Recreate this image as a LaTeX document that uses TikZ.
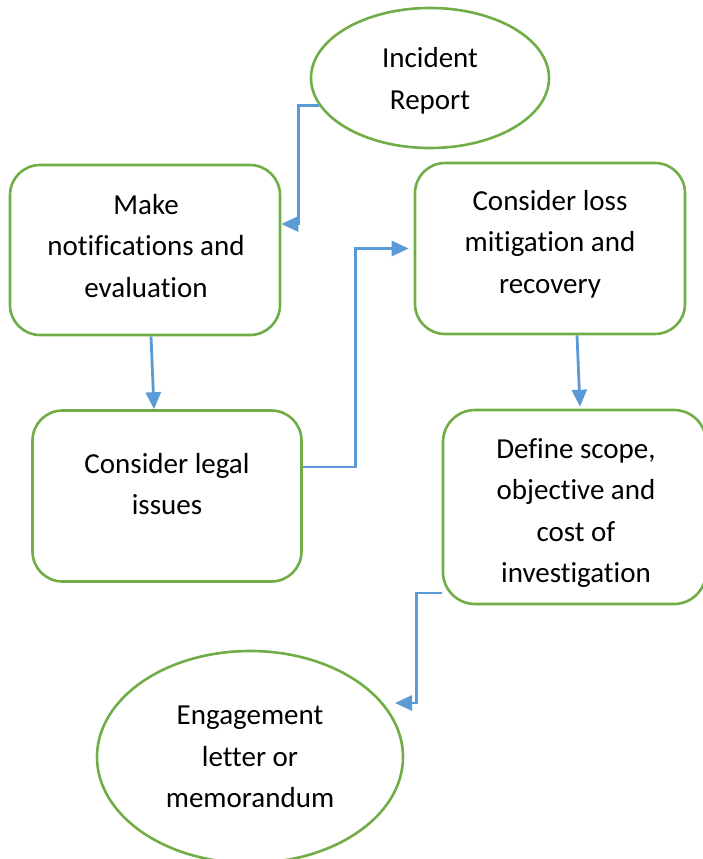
\documentclass[tikz,border=0pt]{standalone}
\usepackage{fontspec}
\setmainfont{Carlito}[Ligatures=NoCommon]
\usetikzlibrary{arrows.meta,shapes.geometric}
\definecolor{boxgreen}{HTML}{70AD47}
\definecolor{linkblue}{HTML}{5B9BD5}
\tikzset{
  stepbox/.style={draw=boxgreen, line width=2.6pt, rounded corners=30pt, inner sep=0pt},
  oval/.style={ellipse, draw=boxgreen, line width=2.6pt, inner sep=0pt},
  txt/.style={align=center, font=\fontsize{29}{41.5}\selectfont, inner sep=0pt},
  link/.style={draw=linkblue, line width=2.8pt,
    -{Triangle[length=17pt,width=15pt]}},
}
\begin{document}
\begin{tikzpicture}[x=1pt,y=-1pt]
\useasboundingbox (0,0) rectangle (702,859);

% shapes
\node[oval, minimum width=238pt, minimum height=140pt] (ir) at (430,78) {};
\node[stepbox, minimum width=270pt, minimum height=170pt] (mk) at (145,250) {};
\node[stepbox, minimum width=270pt, minimum height=171pt] (lm) at (550,248.5) {};
\node[stepbox, minimum width=269pt, minimum height=171pt] (lg) at (167,496) {};
\node[stepbox, minimum width=263pt, minimum height=194pt, rounded corners=32pt] (ds) at (574.5,507) {};
\node[oval, minimum width=306pt, minimum height=212pt] (en) at (250,757) {};

% labels
\node[txt] (tir) at (430,81) {Incident\\Report};
\node[txt] (tmk) at (146,246) {Make\\notifications and\\evaluation};
\node[txt] (tlm) at (550,244) {Consider loss\\mitigation and\\recovery};
\node[txt] (tlg) at (167,484) {Consider legal\\issues};
\node[txt] (tds) at (576,513) {Define scope,\\objective and\\cost of\\investigation};
\node[txt] (ten) at (250,757) {Engagement\\letter or\\memorandum};

% connectors
\coordinate (ent) at (395,703);
\path[link] (ir.194) -- ++(-21,0) |- ([yshift=26pt]mk.east);
\path[link] ([xshift=6pt]mk.south) -- ([xshift=-13pt]lg.north);
\path[link] ([yshift=29pt]lg.east) -- ++(53,0) |- ([xshift=-5pt]lm.west);
\path[link] ([xshift=27pt]lm.south) -- ([xshift=5.5pt,yshift=2pt]ds.north);
\path[link] ([yshift=-86pt]ds.west) -- ++(-25,0) |- (ent);
\end{tikzpicture}
\end{document}
